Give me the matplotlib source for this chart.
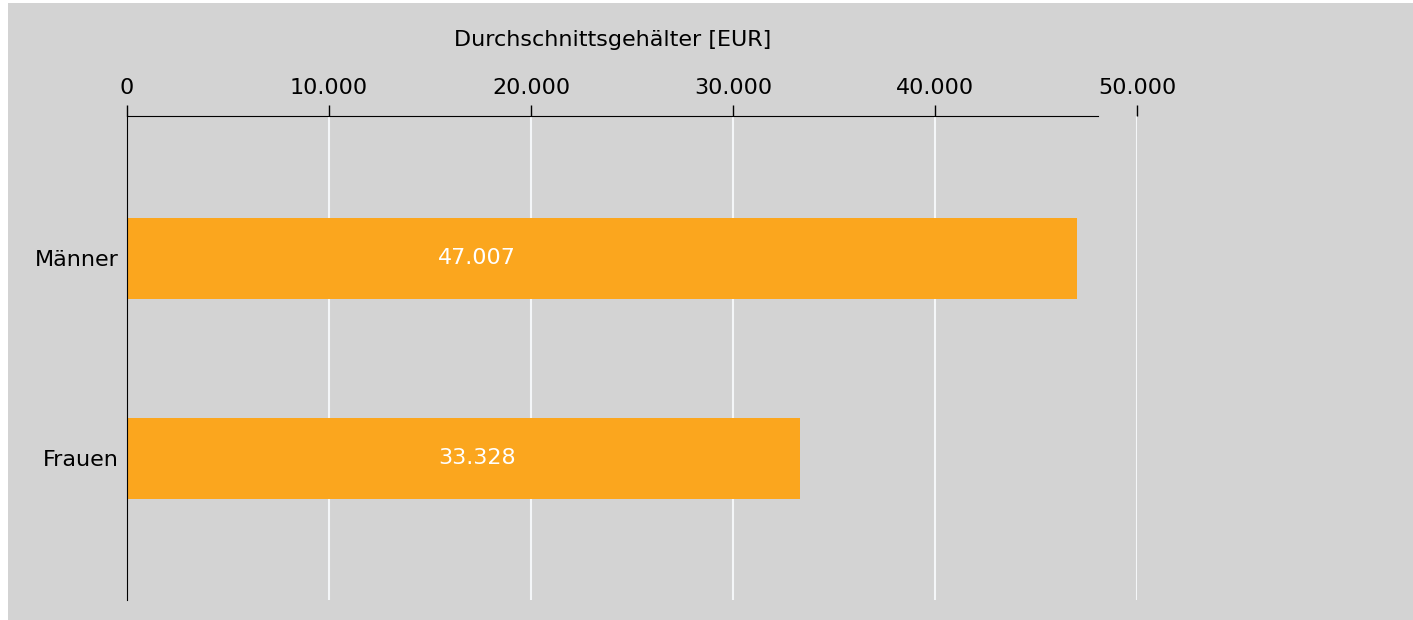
import matplotlib
matplotlib.use("Agg")
import matplotlib.pyplot as plt
from matplotlib.patches import Rectangle
from matplotlib.ticker import FuncFormatter
import matplotlib.transforms as mtransforms

# data
categories = ["Männer", "Frauen"]
salaries = [47007, 33328]
xticks = [0, 10000, 20000, 30000, 40000, 50000]
axis_title = "Durchschnittsgehälter [EUR]"

bar_color = "#FBA61E"
panel_color = "#D3D3D3"
fs = 16

W, H = 1413, 620
fig = plt.figure(figsize=(W / 100, H / 100), dpi=100)
fig.patch.set_facecolor("white")

# grey panel behind the chart
fig.patches.append(Rectangle((8 / W, 0 / H), (W - 8) / W, (H - 3) / H,
                             transform=fig.transFigure, facecolor=panel_color,
                             edgecolor="none", zorder=-10))

ax = fig.add_axes([127 / W, 1 - 600 / H, (1137 - 127) / W, (600 - 116) / H])
ax.set_facecolor("none")
ax.set_zorder(5)

ypos = list(range(len(categories)))
ax.barh(ypos, salaries, height=0.405, color=bar_color, zorder=3)

def de_fmt(v, pos=None):
    return f"{int(round(v)):,}".replace(",", ".")

# value labels sit at a fixed spot inside the bars
for y, v in zip(ypos, salaries):
    ax.text(17330, y, de_fmt(v), color="white", fontsize=fs,
            ha="center", va="center", zorder=4)

ax.set_xlim(0, 50000)
ax.set_ylim(1.71, -0.71)
ax.set_yticks(ypos)
ax.set_yticklabels(categories, fontsize=fs)
ax.tick_params(axis="y", length=0, pad=6)

ax.xaxis.tick_top()
ax.set_xticks(xticks)
ax.xaxis.set_major_formatter(FuncFormatter(de_fmt))
ax.tick_params(axis="x", length=8, width=1, direction="out", labelsize=fs, pad=5)

ax.grid(axis="x", color="#F4F6F8", linewidth=1.5, zorder=1)

for s in ["right", "bottom"]:
    ax.spines[s].set_visible(False)
ax.spines["top"].set_bounds(0, 48070)
ax.spines["top"].set_color("black")
ax.spines["left"].set_color("black")
ax.spines["top"].set_zorder(5)
ax.spines["left"].set_zorder(5)

trans = mtransforms.blended_transform_factory(ax.transData, fig.transFigure)
ax.text(24035, 1 - 40 / H, axis_title, transform=trans, fontsize=fs,
        ha="center", va="center")

fig.savefig("out.png", dpi=100, facecolor="white")
